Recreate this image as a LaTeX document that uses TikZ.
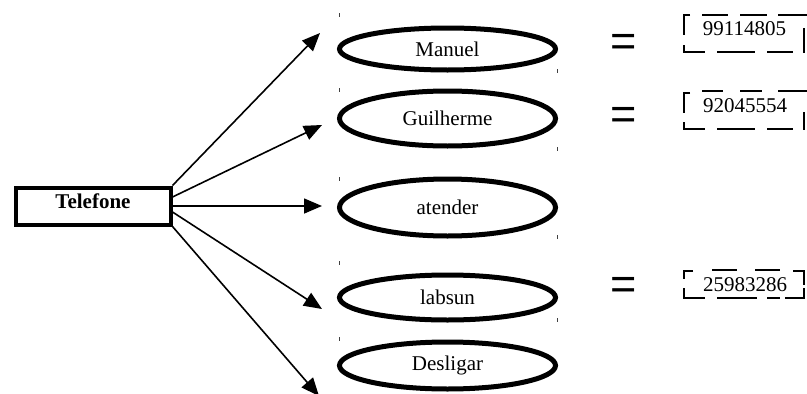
\documentclass[tikz,border=0pt]{standalone}
\usepackage{fontspec}
\setmainfont{Liberation Serif}
\newfontfamily\eqfont{Liberation Sans}
\usetikzlibrary{arrows.meta,shapes.geometric,calc}
\begin{document}
\begin{tikzpicture}[x=1pt,y=-1pt,
  every node/.style={font=\fontsize{21}{24}\selectfont},
  oval/.style={draw, ellipse, line width=5pt, minimum width=216pt, inner sep=0pt},
  conn/.style={line width=1.6pt, -{Triangle[length=18pt,width=15pt]}},
  ticks/.style={line width=0.8pt, black!75},
  dbox/.style={line width=2pt},
  dboxr/.style={line width=2.6pt},
  eqsign/.style={font=\eqfont\fontsize{45}{50}\selectfont, anchor=base, inner sep=0pt},
  num/.style={anchor=base, inner sep=0pt}]
\useasboundingbox (0,0) rectangle (807,394);

% main box
\node[draw, line width=4pt, minimum width=155pt, minimum height=37pt,
      text depth=10pt, inner sep=0pt] (tel) at (93,206) {\textbf{Telefone}};

% ellipses
\node[oval, minimum height=42pt] (manuel) at (447.5,49) {Manuel};
\node[oval, minimum height=55pt] (guil) at (447.5,118.5) {Guilherme};
\node[oval, minimum height=57pt] (aten) at (447.5,207.5) {atender};
\node[oval, minimum height=45pt] (labs) at (447.5,297.5) {labsun};
\node[oval, minimum height=47pt] (desl) at (447.5,365.5) {Desligar};

% arrow ends
\coordinate (t1) at (320,33);
\coordinate (t2) at (322,125);
\coordinate (t3) at (322,206);
\coordinate (t4) at (322,309);
\coordinate (t5) at (319,396);

\draw[conn] (tel.north east) -- (t1);
\draw[conn] ($(tel.east)+(0,-9)$) -- (t2);
\draw[conn] (tel.east) -- (t3);
\draw[conn] ($(tel.east)+(0,6)$) -- (t4);
\draw[conn] (tel.south east) -- (t5);

% frame corner ticks
\foreach \x/\y in {339/15, 557/71, 339/90, 557/149, 339/179, 557/237, 339/263, 557/320, 339/339}
  \draw[ticks] (\x,\y-2) -- (\x,\y+2);

% equals signs
\node[eqsign] (eq1) at (624,56) {=};
\node[eqsign] (eq2) at (624,129) {=};
\node[eqsign] (eq3) at (624,299) {=};

% numbers
\node[num] (n1) at (744.5,35.5) {99114805};
\node[num] (n2) at (745,112) {92045554};
\node[num] (n3) at (745,291) {25983286};

% box 1
\draw[dbox] (690,15) -- (684,15) -- (684,35);
\draw[dbox] (702,15) -- (728,15) (740,15) -- (767,15) (778,15) -- (807,15);
\draw[dbox] (684,45) -- (684,52) -- (705,52) (717,52) -- (755,52) (767,52) -- (793,52);
\draw[dboxr] (804,28) -- (804,53);

% box 2
\draw[dbox] (690,93) -- (684,93) -- (684,113);
\draw[dbox] (702,91) -- (723,91) (740,91) -- (762,91) (778,91) -- (807,91);
\draw[dbox] (684,122) -- (684,129) -- (705,129) (717,129) -- (755,129) (767,129) -- (793,129);
\draw[dboxr] (804,112) -- (804,130);

% box 3
\draw[dbox] (693,271) -- (684,271) -- (684,279);
\draw[dbox] (712,270) -- (737,270) (755,270) -- (780,270);
\draw[dbox] (793,271) -- (804,271) -- (804,285);
\draw[dbox] (684,288) -- (684,298) -- (705,298) (717,298) -- (757,298) (767,298) -- (780,298);
\draw[dbox] (785,298) -- (804,298) -- (804,288);
\end{tikzpicture}
\end{document}
